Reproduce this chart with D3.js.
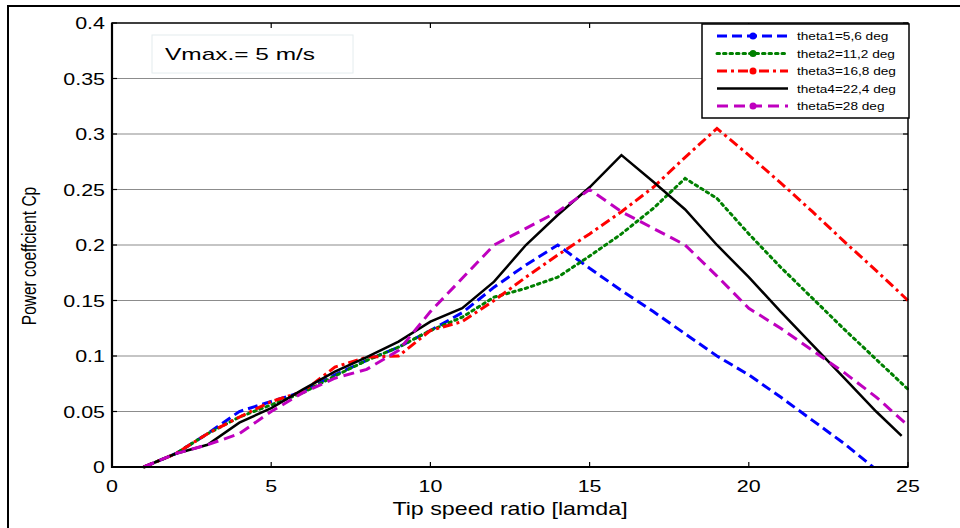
<!DOCTYPE html>
<html>
<head>
  <meta charset="UTF-8">
  <style>
    body { margin: 0; background: #fff; }
    text { font-family: "Liberation Sans", Arial, sans-serif; fill: #000; }
  </style>
</head>
<body>
<svg></svg>
<script src="https://d3js.org/d3.v7.min.js"></script>
<script>

let width = 960, height = 528;

// tip speed ratio values
let lambda = [1, 2, 3, 4, 5, 6, 7, 8, 9, 10, 11, 12, 13, 14, 15, 16, 17, 18, 19, 20, 21, 22, 23, 24, 25];
let lambdaBlue = [1, 2, 3, 4, 5, 6, 7, 8, 9, 10, 11, 12, 13, 14, 15, 16, 17, 18, 19, 20, 21, 22, 23, 23.9];
let lambdaBlack = [1, 2, 3, 4, 5, 6, 7, 8, 9, 10, 11, 12, 13, 14, 15, 16, 17, 18, 19, 20, 21, 22, 23, 24, 24.8];
let lambdaMag = [1, 2, 3, 4, 5, 6, 7, 8, 9, 10, 11, 12, 13, 14, 15, 16, 17, 18, 19, 20, 21, 22, 23, 24, 24.9];

// power coefficient Cp per pitch angle
let cpTheta1 = [0, .012, .03, .05, .059, .068, .083, .096, .108, .123, .139, .162, .182, .2, .179, .159, .14, .12, .1, .083, .063, .042, .021, 0];
let cpTheta2 = [0, .012, .03, .045, .056, .067, .082, .096, .108, .123, .135, .153, .161, .171, .19, .21, .233, .26, .242, .21, .18, .152, .124, .097, .07];
let cpTheta3 = [0, .012, .03, .045, .059, .068, .09, .099, .1, .123, .131, .15, .171, .191, .21, .23, .252, .279, .305, .281, .256, .23, .203, .177, .15];
let cpTheta4 = [0, .012, .02, .04, .053, .07, .086, .099, .113, .131, .143, .167, .2, .227, .252, .281, .257, .232, .2, .171, .14, .11, .08, .05, .028];
let cpTheta5 = [0, .012, .02, .03, .05, .067, .08, .088, .105, .14, .17, .2, .215, .23, .25, .23, .215, .2, .172, .143, .125, .105, .085, .063, .04];

let labels = ["theta1=5,6 deg", "theta2=11,2 deg", "theta3=16,8 deg", "theta4=22,4 deg", "theta5=28 deg"];
let xTicks = [0, 5, 10, 15, 20, 25];
let yTicks = [0, 0.05, 0.1, 0.15, 0.2, 0.25, 0.3, 0.35, 0.4];
let yTickLabels = ["0", "0.05", "0.1", "0.15", "0.2", "0.25", "0.3", "0.35", "0.4"];

let series = [
  {x: lambdaBlue, y: cpTheta1, color: "#0000ff", dash: "10,5", marker: true},
  {x: lambda, y: cpTheta2, color: "#008000", dash: "2.5,4", marker: true},
  {x: lambda, y: cpTheta3, color: "#ff0000", dash: "10,4,3,4", marker: true},
  {x: lambdaBlack, y: cpTheta4, color: "#000000", dash: null, marker: false},
  {x: lambdaMag, y: cpTheta5, color: "#bf00bf", dash: "11,6", marker: true}
];

let svg = d3.select("svg")
    .attr("width", width)
    .attr("height", height);

let x = d3.scaleLinear().domain([0, 25]).range([112, 908]);
let y = d3.scaleLinear().domain([0, 0.4]).range([467, 23]);

// outer figure frame
svg.append("path")
    .attr("d", "M8,530 L8,6 L962,6")
    .attr("fill", "none")
    .attr("stroke", "#000")
    .attr("stroke-width", 2);

// horizontal grid
svg.append("g")
    .selectAll("line")
    .data(yTicks.slice(1, -1))
    .enter()
    .append("line")
    .attr("x1", x(0)).attr("x2", x(25))
    .attr("y1", d => y(d)).attr("y2", d => y(d))
    .attr("stroke", "#8c8c8c")
    .attr("stroke-width", 1.2);

// inward ticks on all four sides
let ticks = svg.append("g").attr("stroke", "#000").attr("stroke-width", 1.2);
xTicks.forEach(v => {
  ticks.append("line").attr("x1", x(v)).attr("x2", x(v)).attr("y1", y(0)).attr("y2", y(0) - 5);
  ticks.append("line").attr("x1", x(v)).attr("x2", x(v)).attr("y1", y(0.4)).attr("y2", y(0.4) + 5);
});
yTicks.forEach(v => {
  ticks.append("line").attr("x1", x(0)).attr("x2", x(0) + 5).attr("y1", y(v)).attr("y2", y(v));
  ticks.append("line").attr("x1", x(25)).attr("x2", x(25) - 5).attr("y1", y(v)).attr("y2", y(v));
});

// data lines
let line = d3.line()
    .x(d => x(d[0]))
    .y(d => y(d[1]));

svg.append("g")
    .selectAll("path")
    .data(series)
    .enter()
    .append("path")
    .attr("d", s => line(s.x.map((v, i) => [v, s.y[i]])))
    .attr("fill", "none")
    .attr("stroke", s => s.color)
    .attr("stroke-width", s => s.dash ? 3 : 2.5)
    .attr("stroke-dasharray", s => s.dash)
    .attr("stroke-linecap", s => s.dash === "2.5,4" ? "round" : "butt");

// axes box
svg.append("rect")
    .attr("x", x(0)).attr("y", y(0.4))
    .attr("width", x(25) - x(0)).attr("height", y(0) - y(0.4))
    .attr("fill", "none")
    .attr("stroke", "#000")
    .attr("stroke-width", 1.5);
svg.append("path")
    .attr("d", `M${x(0)},${y(0.4)} L${x(0)},${y(0)} L${x(25)},${y(0)}`)
    .attr("fill", "none")
    .attr("stroke", "#000")
    .attr("stroke-width", 2.2);

// tick labels (stretched like the original figure)
let sx = 1.3;
svg.append("g")
    .selectAll("text")
    .data(xTicks)
    .enter()
    .append("text")
    .attr("transform", d => `translate(${x(d)},492) scale(${sx},1)`)
    .attr("text-anchor", "middle")
    .attr("font-size", 16.5)
    .text(d => d);

svg.append("g")
    .selectAll("text")
    .data(yTicks)
    .enter()
    .append("text")
    .attr("transform", d => `translate(105,${y(d) + 6}) scale(${sx},1)`)
    .attr("text-anchor", "end")
    .attr("font-size", 16.5)
    .text((d, i) => yTickLabels[i]);

// axis titles
svg.append("text")
    .attr("transform", `translate(${(x(0) + x(25)) / 2},515) scale(1.29,1)`)
    .attr("text-anchor", "middle")
    .attr("font-size", 18)
    .text("Tip speed ratio [lamda]");

svg.append("text")
    .attr("transform", `translate(36,256) scale(${sx},1) rotate(-90)`)
    .attr("text-anchor", "middle")
    .attr("font-size", 15.5)
    .text("Power coeffcient Cp");

// annotation box
svg.append("rect")
    .attr("x", 152).attr("y", 35)
    .attr("width", 201).attr("height", 38)
    .attr("fill", "#fff")
    .attr("stroke", "#e4ecee")
    .attr("stroke-width", 1);
svg.append("text")
    .attr("x", 165).attr("y", 60)
    .attr("font-size", 17)
    .attr("textLength", 150)
    .attr("lengthAdjust", "spacingAndGlyphs")
    .text("Vmax.= 5 m/s");

// legend
let legend = svg.append("g");
legend.append("rect")
    .attr("x", 702).attr("y", 24)
    .attr("width", 207).attr("height", 94)
    .attr("fill", "#fff")
    .attr("stroke", "#000")
    .attr("stroke-width", 1.5);

let rows = legend.selectAll("g.row")
    .data(series)
    .enter()
    .append("g")
    .attr("class", "row")
    .attr("transform", (d, i) => `translate(0,${36 + i * 17.5})`);

rows.append("line")
    .attr("x1", 717).attr("x2", 788)
    .attr("y1", 0).attr("y2", 0)
    .attr("stroke", d => d.color)
    .attr("stroke-width", d => d.dash ? 3 : 2.5)
    .attr("stroke-dasharray", d => d.dash)
    .attr("stroke-linecap", d => d.dash === "2.5,4" ? "round" : "butt");

rows.filter(d => d.marker)
    .append("circle")
    .attr("cx", 753).attr("cy", 0)
    .attr("r", 3.5)
    .attr("fill", d => d.color);

rows.append("text")
    .attr("transform", `translate(797,4) scale(${sx},1)`)
    .attr("font-size", 10.5)
    .text((d, i) => labels[i]);

</script>
</body>
</html>
